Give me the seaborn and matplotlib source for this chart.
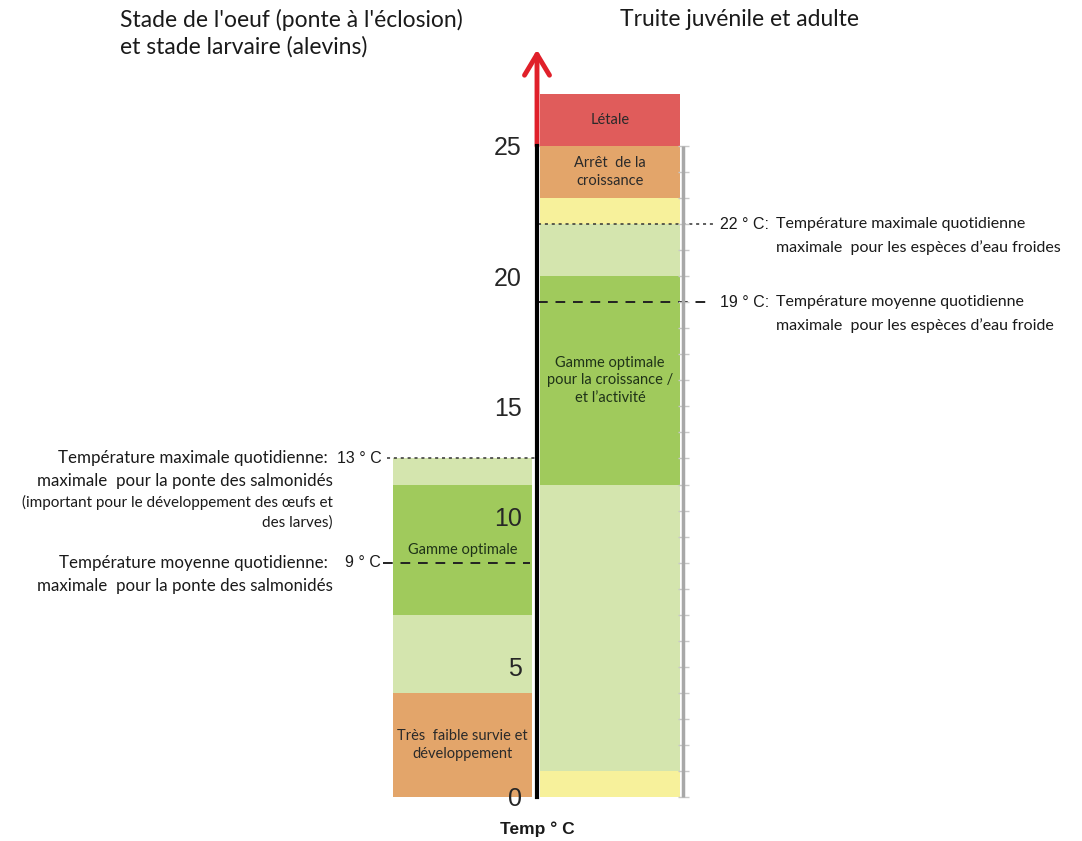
import pandas as pd
import numpy as np
import matplotlib.pyplot as plt
import matplotlib.transforms as mtransforms
import seaborn as sns

# deux colonnes : stade oeuf/larve et truite juvenile/adulte
stades = ['oeuf', 'truite']

# limites des zones (°C), de bas en haut
oeuf_bornes = [0, 4, 7, 12, 13]
oeuf_zones = ['faible', 'tolerable', 'optimal', 'tolerable']
oeuf_textes = ['Très  faible survie et\ndéveloppement', '', 'Gamme optimale', '']

truite_bornes = [0, 1, 12, 20, 22, 23, 25, 27]
truite_zones = ['stress', 'tolerable', 'optimal', 'tolerable', 'stress', 'arret', 'letal']
truite_textes = ['', '', 'Gamme optimale\npour la croissance /\net l\u2019activité', '', '',
                 'Arrêt  de la\ncroissance', 'Létale']

couleurs = {'faible': '#E3A56A', 'tolerable': '#D4E5AE', 'optimal': '#A0CA5C',
            'stress': '#F7F19B', 'arret': '#E3A56A', 'letal': '#E05C5B'}

# seuils de temperature
seuil_max_truite = 22
seuil_moy_truite = 19
seuil_max_oeuf = 13
seuil_moy_oeuf = 9

axe_ticks = list(range(0, 26, 5))

sns.set_style('white')
plt.rcParams['font.family'] = ['Lato', 'DejaVu Sans']

W, H = 1082, 841
fig = plt.figure(figsize=(W / 100, H / 100), dpi=100)
ax = fig.add_axes([0, 0, 1, 1])

y0, k = 797, 26.04   # pixel du 0 °C et pixels par degre
def px(x):
    return (x - 462.5) / 147.5

# segments empiles : on dessine du plus haut au plus bas
segs = []
for nom, bornes, zones in [('oeuf', oeuf_bornes, oeuf_zones), ('truite', truite_bornes, truite_zones)]:
    for haut, zone in zip(bornes[1:], zones):
        segs.append((nom, haut, zone))
segs.sort(key=lambda s: -s[1])
largeurs = {'oeuf': 0.94, 'truite': 0.95}
for nom, haut, zone in segs:
    d = pd.DataFrame({'stade': [nom], 'temp': [haut]})
    sns.barplot(data=d, x='stade', y='temp', order=stades, color=couleurs[zone],
                saturation=1, width=largeurs[nom], linewidth=0, ax=ax)

# textes dans les zones
for i, (bornes, textes) in enumerate([(oeuf_bornes, oeuf_textes), (truite_bornes, truite_textes)]):
    for b0, b1, t in zip(bornes[:-1], bornes[1:], textes):
        if t:
            c = '#1f3318' if 'Gamme' in t else '#2a2a2a'
            ax.text(i, (b0 + b1) / 2, t, ha='center', va='center', fontsize=10.5,
                    color=c, linespacing=1.35)

ax.set_xlim(px(0), px(W))
ax.set_ylim(-(H - y0) / k, y0 / k)
ax.set_xlabel('')
ax.set_ylabel('')
ax.set_xticks([])
ax.set_axisbelow(False)

# axe des temperatures
for s in ['top', 'right', 'bottom']:
    ax.spines[s].set_visible(False)
ax.spines['left'].set_position(('data', px(537)))
ax.spines['left'].set_bounds(0, 25)
ax.spines['left'].set_linewidth(3)
ax.spines['left'].set_color('black')
ax.spines['left'].set_zorder(4)
ax.set_yticks(axe_ticks)
ax.set_yticks(range(0, 26), minor=True)
ax.tick_params(axis='y', which='major', length=7, width=1.2, pad=4,
               labelsize=18, labelfontfamily='Liberation Sans')
ax.tick_params(axis='y', which='minor', length=4, width=1.0)

# le "10" est un peu remonte dans l'original
t10 = ax.yaxis.get_major_ticks()[axe_ticks.index(10)].label1
t10.set_transform(t10.get_transform() +
                  mtransforms.ScaledTranslation(0, 0.2, fig.dpi_scale_trans))

# fleche rouge
ax.annotate('', xy=(px(537), 28.7), xytext=(px(537), 25),
            arrowprops=dict(arrowstyle='->,head_length=1.5,head_width=0.9',
                            color='#E0202A', lw=3.5, shrinkA=0, shrinkB=0))

# ligne grise a droite
ax.vlines(px(683), 0, 25, color='#A8A8A8', lw=2.5, zorder=3)
ax.hlines(np.arange(0, 26), px(678), px(689), color='#C8C8C8', lw=1, zorder=2.9)

# seuils
ax.plot([px(538), px(713)], [seuil_max_truite] * 2, color='#333333', lw=1.1, ls=(0, (2, 2.5)))
ax.plot([px(538), px(713)], [seuil_moy_truite] * 2, color='#222222', lw=1.4, ls=(0, (5, 4)))
ax.plot([px(387), px(536)], [seuil_max_oeuf] * 2, color='#333333', lw=1.1, ls=(0, (2, 2.5)))
ax.plot([px(383), px(530)], [seuil_moy_oeuf] * 2, color='#222222', lw=1.4, ls=(0, (5, 4)))

dy = 23 / k
num = dict(fontsize=11.5, family='Liberation Sans', va='center', color='#1a1a1a')
txt = dict(fontsize=11.5, va='center', color='#1a1a1a')
txt_g = dict(fontsize=12.2, va='center', color='#1a1a1a')

ax.text(px(720), seuil_max_truite, f'{seuil_max_truite} ° C:', ha='left', **num)
ax.text(px(776), seuil_max_truite, 'Température maximale quotidienne', ha='left', **txt)
ax.text(px(776), seuil_max_truite - dy, 'maximale  pour les espèces d\u2019eau froides', ha='left', **txt)
ax.text(px(720), seuil_moy_truite, f'{seuil_moy_truite} ° C:', ha='left', **num)
ax.text(px(776), seuil_moy_truite, 'Température moyenne quotidienne', ha='left', **txt)
ax.text(px(776), seuil_moy_truite - dy, 'maximale  pour les espèces d\u2019eau froide', ha='left', **txt)

ax.text(px(328), seuil_max_oeuf, 'Température maximale quotidienne:', ha='right', **txt_g)
ax.text(px(337), seuil_max_oeuf, f'{seuil_max_oeuf} ° C', ha='left', **num)
ax.text(px(333), seuil_max_oeuf - dy, 'maximale  pour la ponte des salmonidés', ha='right', **txt_g)
ax.text(px(333), seuil_max_oeuf - 44 / k, '(important pour le développement des \u0153ufs et',
        ha='right', fontsize=11, va='center', color='#1a1a1a')
ax.text(px(333), seuil_max_oeuf - 64 / k, 'des larves)', ha='right', fontsize=11,
        va='center', color='#1a1a1a')
ax.text(px(328), seuil_moy_oeuf, 'Température moyenne quotidienne:', ha='right', **txt_g)
ax.text(px(345), seuil_moy_oeuf, f'{seuil_moy_oeuf} ° C', ha='left', **num)
ax.text(px(333), seuil_moy_oeuf - dy, 'maximale  pour la ponte des salmonidés', ha='right', **txt_g)

ax.text(px(537), -32 / k, 'Temp ° C', ha='center', va='center', fontsize=12.5,
        fontweight='bold', family='Liberation Sans', color='#1a1a1a')

# titres
fig.text(120 / W, 1 - 20 / H, "Stade de l'oeuf (ponte à l'éclosion)", fontsize=16.5,
         va='center', ha='left', color='#1a1a1a')
fig.text(120 / W, 1 - 47 / H, 'et stade larvaire (alevins)', fontsize=16.5,
         va='center', ha='left', color='#1a1a1a')
fig.text(620 / W, 1 - 20 / H, 'Truite juvénile et adulte', fontsize=16.5,
         va='center', ha='left', color='#1a1a1a')

fig.savefig('out.png', dpi=100)
